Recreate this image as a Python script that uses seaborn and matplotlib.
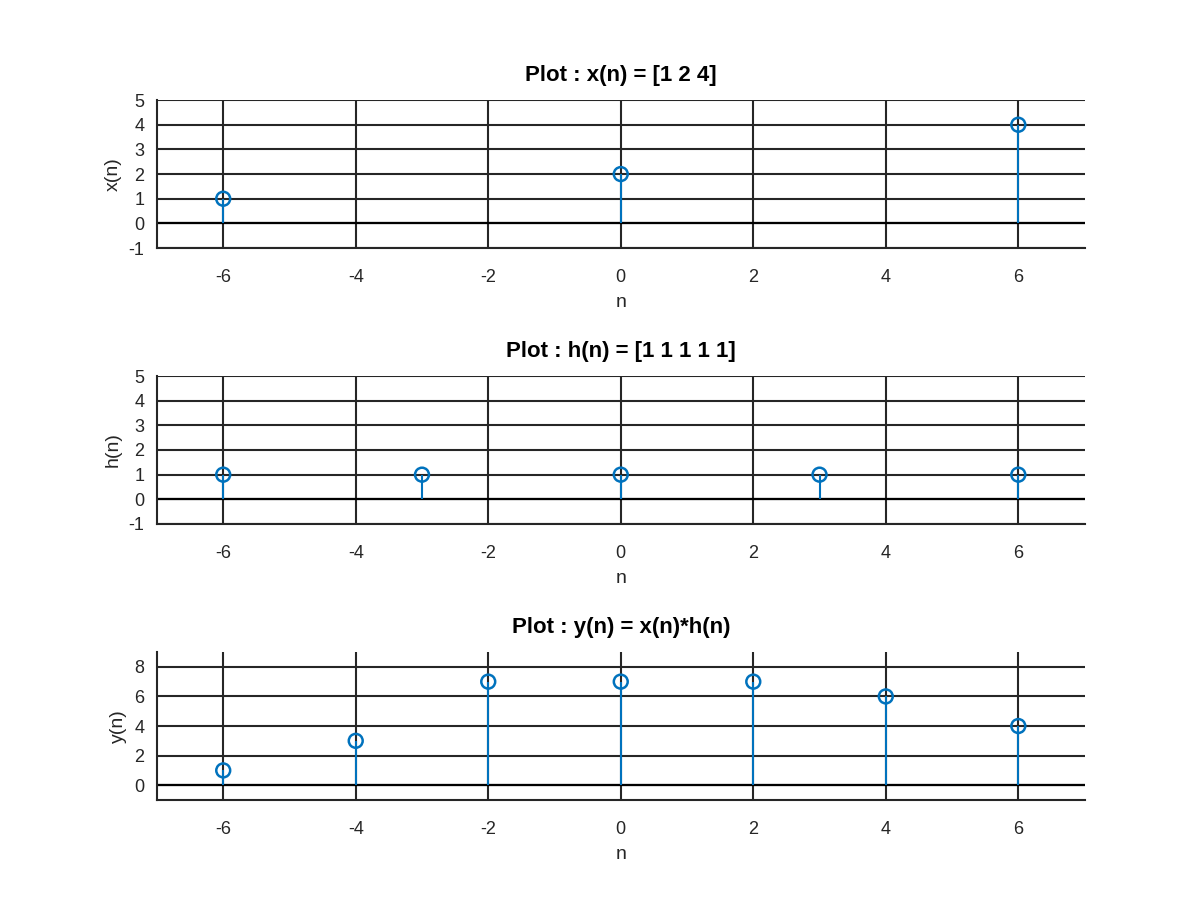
import numpy as np
import pandas as pd
import matplotlib
matplotlib.use("Agg")
import matplotlib.pyplot as plt
import seaborn as sns

# --- Data ---
x_n = [-6, 0, 6]
x_vals = [1, 2, 4]

h_n = [-6, -3, 0, 3, 6]
h_vals = [1, 1, 1, 1, 1]

y_n = [-6, -4, -2, 0, 2, 4, 6]
y_vals = [1, 3, 7, 7, 7, 6, 4]

titles = ["Plot : x(n) = [1 2 4]", "Plot : h(n) = [1 1 1 1 1]", "Plot : y(n) = x(n)*h(n)"]
ylabels = ["x(n)", "h(n)", "y(n)"]
ylims = [(-1, 5), (-1, 5), (-1, 9)]
yticks = [list(range(-1, 6)), list(range(-1, 6)), [0, 2, 4, 6, 8]]
xticks = [-6, -4, -2, 0, 2, 4, 6]

STEM_COLOR = "#0072BD"

sns.set_style("white")
plt.rcParams['font.family'] = ['Liberation Sans', 'DejaVu Sans']
plt.rcParams['axes.unicode_minus'] = False


def stem_panel(ax, n, vals, title, ylabel, ylim, yt):
    df = pd.DataFrame({"n": n, "val": vals})
    ax.set_xlim(-7, 7)
    ax.set_ylim(*ylim)
    ax.grid(True, color="#262626", linewidth=1.5)
    ax.set_axisbelow(True)
    # baseline at zero
    ax.axhline(0, color="black", linewidth=1.6, zorder=2)
    ax.vlines(df["n"], 0, df["val"], color=STEM_COLOR, linewidth=1.5, zorder=3)
    sns.scatterplot(data=df, x="n", y="val", ax=ax, marker="o", s=100,
                    facecolor="none", edgecolor=STEM_COLOR, linewidth=1.8, zorder=4)
    ax.set_xticks(xticks)
    ax.set_yticks(yt)
    ax.set_title(title, fontsize=16, fontweight="bold", pad=14, color="black")
    ax.set_xlabel("n", fontsize=14, labelpad=6, color="#262626")
    ax.set_ylabel(ylabel, fontsize=14, labelpad=5, color="#262626")
    ax.tick_params(axis="x", labelsize=13, length=0, pad=15, colors="#262626")
    ax.tick_params(axis="y", labelsize=13, length=0, pad=9, colors="#262626")
    for side in ["top", "right"]:
        ax.spines[side].set_visible(False)
    for side in ["left", "bottom"]:
        ax.spines[side].set_color("#262626")
        ax.spines[side].set_linewidth(1.5)


fig = plt.figure(figsize=(12, 9), dpi=100)
left, width, height = 0.1308, 0.773, 0.1644
bottoms = [0.7244, 0.4178, 0.1111]
data = [(x_n, x_vals), (h_n, h_vals), (y_n, y_vals)]

for i in range(3):
    ax = fig.add_axes([left, bottoms[i], width, height])
    stem_panel(ax, data[i][0], data[i][1], titles[i], ylabels[i], ylims[i], yticks[i])

fig.savefig("out.png", dpi=100)
